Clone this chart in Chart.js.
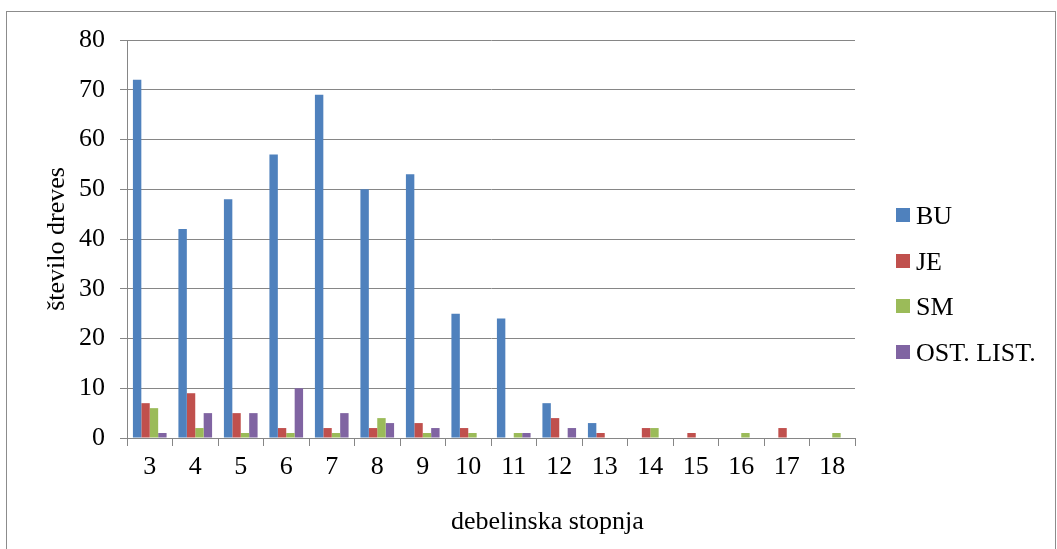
<!DOCTYPE html>
<html>
<head>
<meta charset="utf-8">
<script src="https://cdn.jsdelivr.net/npm/chart.js@4"></script>
<style>
  html, body { margin: 0; padding: 0; background: #fff; }
  #wrap { position: relative; width: 1057px; height: 549px; }
</style>
</head>
<body>
<div id="wrap"><canvas id="myChart" width="1057" height="549"></canvas></div>
<script>
// categories (diameter classes)
const categories = ["3", "4", "5", "6", "7", "8", "9", "10", "11", "12", "13", "14", "15", "16", "17", "18"];

// series values
const buValues = [72, 42, 48, 57, 69, 50, 53, 25, 24, 7, 3, 0, 0, 0, 0, 0];
const jeValues = [7, 9, 5, 2, 2, 2, 3, 2, 0, 4, 1, 2, 1, 0, 2, 0];
const smValues = [6, 2, 1, 1, 1, 4, 1, 1, 1, 0, 0, 2, 0, 1, 0, 1];
const ostValues = [1, 5, 5, 10, 5, 3, 2, 0, 1, 2, 0, 0, 0, 0, 0, 0];

const seriesNames = ["BU", "JE", "SM", "OST. LIST."];
const seriesColors = ["#4F81BD", "#C0504D", "#9BBB59", "#8064A2"];
const yTicks = [0, 10, 20, 30, 40, 50, 60, 70, 80];
const xTitle = "debelinska stopnja";
const yTitle = "število dreves";

const serif = "'Liberation Serif', 'Times New Roman', serif";
const gridGray = "#868686";

// outer frame, x title and legend drawn by a small plugin
const framePlugin = {
  id: "frame",
  beforeDraw(chart) {
    const c = chart.ctx;
    c.save();
    c.fillStyle = "#fff";
    c.fillRect(0, 0, chart.width, chart.height);
    c.strokeStyle = "#8c8c8c";
    c.lineWidth = 1;
    c.strokeRect(6.5, 11.5, 1049, 545);
    c.restore();
  },
  afterDraw(chart) {
    const c = chart.ctx;
    c.save();
    c.font = "26px " + serif;
    c.fillStyle = "#000";
    c.textBaseline = "alphabetic";
    c.textAlign = "left";
    c.fillText(xTitle, 451, 529);
    seriesNames.forEach(function (name, i) {
      const y = 215 + i * 45.5;
      c.fillStyle = seriesColors[i];
      c.fillRect(896, Math.round(y - 7), 14, 14);
      c.fillStyle = "#000";
      c.fillText(name, 916, Math.round(y + 9));
    });
    c.restore();
  }
};

const ctx = document.getElementById("myChart").getContext("2d");
const myChart = new Chart(ctx, {
  type: "bar",
  data: {
    labels: categories,
    datasets: [
      { label: seriesNames[0], data: buValues, backgroundColor: seriesColors[0] },
      { label: seriesNames[1], data: jeValues, backgroundColor: seriesColors[1] },
      { label: seriesNames[2], data: smValues, backgroundColor: seriesColors[2] },
      { label: seriesNames[3], data: ostValues, backgroundColor: seriesColors[3] }
    ]
  },
  options: {
    responsive: false,
    animation: false,
    layout: { padding: { left: 10, right: 202, top: 40, bottom: 0 } },
    datasets: {
      bar: { categoryPercentage: 0.74, barPercentage: 1.0 }
    },
    plugins: {
      legend: { display: false },
      tooltip: { enabled: false }
    },
    scales: {
      x: {
        grid: {
          display: true,
          drawOnChartArea: false,
          drawTicks: true,
          tickLength: 8,
          color: gridGray,
          offset: true
        },
        border: { color: gridGray, width: 1 },
        ticks: {
          color: "#000",
          font: { family: serif, size: 26 },
          padding: 6,
          maxRotation: 0
        },
        afterFit(scale) { scale.height = 111; }
      },
      y: {
        min: 0,
        max: 80,
        afterBuildTicks(scale) {
          scale.ticks = yTicks.map(function (v) { return { value: v }; });
        },
        grid: {
          color: gridGray,
          drawTicks: true,
          tickLength: 7
        },
        border: { color: gridGray, width: 1 },
        ticks: {
          color: "#000",
          font: { family: serif, size: 26 },
          padding: 15
        },
        title: {
          display: true,
          text: yTitle,
          color: "#000",
          font: { family: serif, size: 26 },
          padding: { top: 32, bottom: 0 }
        },
        afterFit(scale) { scale.width = 117; }
      }
    }
  },
  plugins: [framePlugin]
});
</script>
</body>
</html>
